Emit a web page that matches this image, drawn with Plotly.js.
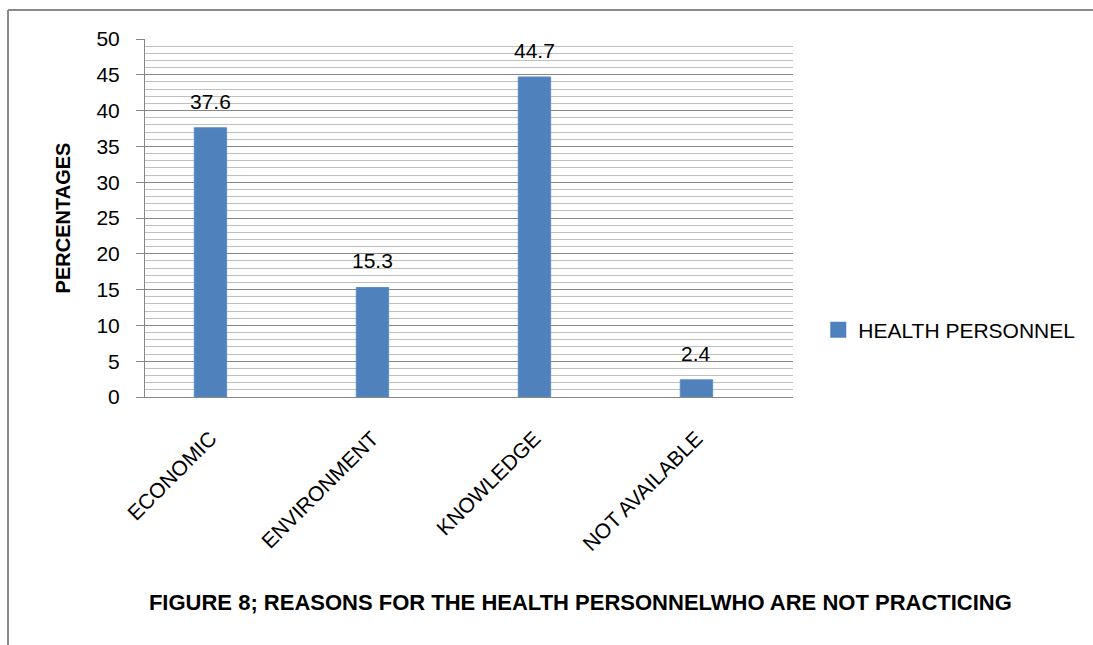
<!DOCTYPE html>
<html>
<head>
<meta charset="utf-8">
<script src="https://cdn.plot.ly/plotly-3.0.1.min.js"></script>
<style>
  html, body { margin: 0; padding: 0; background: #ffffff; }
  #chart { width: 1093px; height: 645px; }
</style>
</head>
<body>
<div id="chart"></div>
<script>
// Reasons given by health personnel who are not practicing (percent)
const categories = ['ECONOMIC', 'ENVIRONMENT', 'KNOWLEDGE', 'NOT AVAILABLE'];
const percentages = [37.6, 15.3, 44.7, 2.4];
const seriesName = 'HEALTH PERSONNEL';
const yTicks = [0, 5, 10, 15, 20, 25, 30, 35, 40, 45, 50];

const barColor = '#4f81bd';
const textFont = { family: 'Liberation Sans, Arial, sans-serif', size: 21, color: '#000000' };

const bars = {
  type: 'bar',
  x: categories,
  y: percentages,
  name: seriesName,
  width: 0.2,
  marker: { color: barColor, line: { color: '#5b8cc6', width: 1 } },
  showlegend: false
};

// legend entry with a larger square swatch
const legendSwatch = {
  type: 'scatter',
  mode: 'markers',
  x: [null],
  y: [null],
  name: seriesName,
  marker: { symbol: 'square', size: 16, color: barColor },
  showlegend: true,
  hoverinfo: 'skip'
};

// value labels sit above each bar
const valueLabels = categories.map((c, i) => ({
  x: c,
  y: percentages[i],
  xref: 'x',
  yref: 'y',
  text: percentages[i].toFixed(1),
  showarrow: false,
  yanchor: 'bottom',
  yshift: 13,
  font: textFont
}));

const frameColor = '#898989';

const layout = {
  width: 1093,
  height: 645,
  margin: { l: 145, r: 300, t: 39, b: 248, autoexpand: false },
  paper_bgcolor: '#ffffff',
  plot_bgcolor: '#ffffff',
  font: textFont,
  title: {
    text: '<b>FIGURE 8; REASONS FOR THE HEALTH PERSONNELWHO ARE NOT PRACTICING</b>',
    font: { family: 'Liberation Sans, Arial, sans-serif', size: 22, color: '#000000' },
    x: 0.531,
    xanchor: 'center',
    xref: 'container',
    y: 0.066,
    yanchor: 'middle',
    yref: 'container'
  },
  xaxis: {
    type: 'category',
    range: [-0.404, 3.596],
    showgrid: false,
    showline: true,
    linecolor: '#868686',
    linewidth: 1,
    ticks: '',
    tickangle: -45,
    ticklabelstandoff: 20,
    tickfont: textFont,
    zeroline: false,
    automargin: false,
    fixedrange: true
  },
  yaxis: {
    range: [0, 50],
    tickvals: yTicks,
    ticktext: yTicks.map(String),
    showgrid: true,
    gridcolor: '#868686',
    gridwidth: 1,
    showline: true,
    linecolor: '#868686',
    linewidth: 1,
    ticks: 'outside',
    ticklen: 8,
    tickcolor: '#868686',
    ticklabelstandoff: 12,
    tickfont: textFont,
    zeroline: false,
    automargin: false,
    minor: {
      dtick: 1,
      showgrid: true,
      gridcolor: '#bfbfbf',
      gridwidth: 1,
      ticks: ''
    },
    title: {
      text: '<b>PERCENTAGES</b>',
      font: { family: 'Liberation Sans, Arial, sans-serif', size: 20, color: '#000000' },
      standoff: 20
    },
    fixedrange: true
  },
  legend: {
    x: 1.039,
    xanchor: 'left',
    y: 0.187,
    yanchor: 'middle',
    font: textFont,
    bgcolor: 'rgba(0,0,0,0)',
    itemwidth: 30
  },
  annotations: valueLabels,
  shapes: [
    // outer frame (top and left edges)
    { type: 'line', xref: 'paper', yref: 'paper', x0: -0.2114, x1: 1.47, y0: 1.081, y1: 1.081,
      line: { color: frameColor, width: 2 } },
    { type: 'line', xref: 'paper', yref: 'paper', x0: -0.2114, x1: -0.2114, y0: 1.081, y1: -0.72,
      line: { color: frameColor, width: 2 } }
  ],
  bargap: 0.8
};

Plotly.newPlot('chart', [bars, legendSwatch], layout, { displayModeBar: false, staticPlot: true });
</script>
</body>
</html>
